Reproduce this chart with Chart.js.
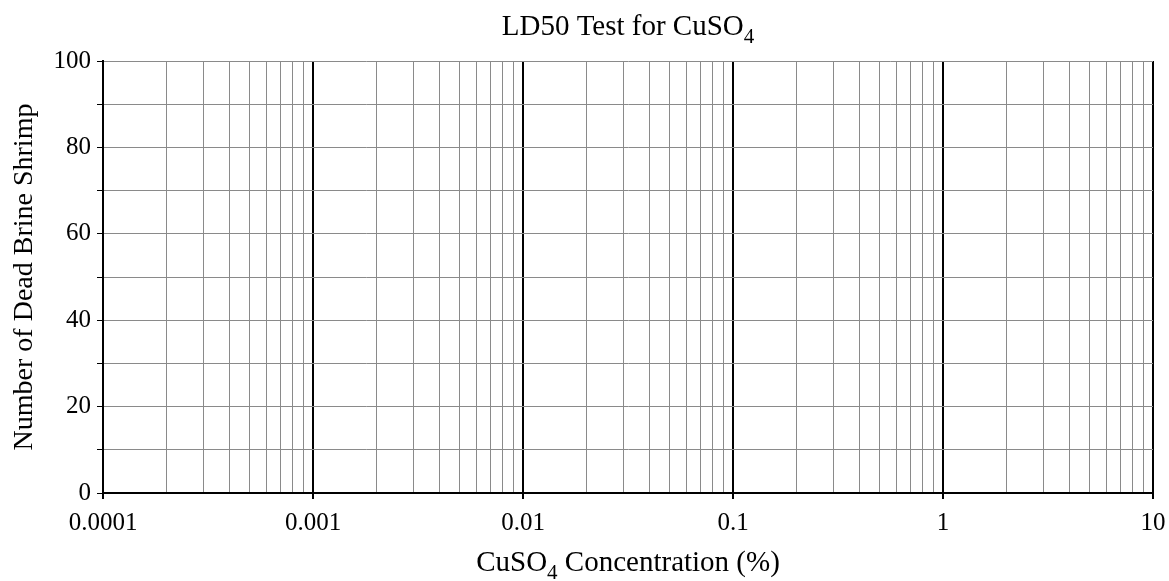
<!DOCTYPE html>
<html>
<head>
<meta charset="utf-8">
<script src="https://cdn.jsdelivr.net/npm/chart.js@4.4.1/dist/chart.umd.min.js"></script>
<style>
    body { margin: 0; background: #fff; }
    #wrap { width: 1169px; height: 581px; }
</style>
</head>
<body>
<div id="wrap"><canvas id="ld50Chart"></canvas></div>
<script>
// Axis values
const decades = [0.0001, 0.001, 0.01, 0.1, 1, 10];
const decadeLabels = ['0.0001', '0.001', '0.01', '0.1', '1', '10'];
const minorSteps = [2, 3, 4, 5, 6, 7, 8, 9];
const yTicks = [0, 10, 20, 30, 40, 50, 60, 70, 80, 90, 100];
const yLabelStep = 20;

// Blank worksheet: no measurements plotted yet
const concentrations = [];
const deadShrimp = [];

const chartTitle = [['LD50 Test for CuSO', false], ['4', true]];
const xTitle = [['CuSO', false], ['4', true], [' Concentration (%)', false]];
const yTitle = 'Number of Dead Brine Shrimp';

const FONT = "'Liberation Serif', 'Times New Roman', serif";

// x ticks: every decade plus 2..9 in between
function buildLogTicks() {
    const ticks = [];
    decades.forEach((d, i) => {
        ticks.push({ value: d, major: true });
        if (i < decades.length - 1) {
            minorSteps.forEach(m => ticks.push({ value: +(d * m).toPrecision(3), major: false }));
        }
    });
    return ticks;
}

// Draw text with a lowered small subscript part
function drawSubText(ctx, parts, cx, cy, size) {
    const subSize = Math.round(size * 0.72);
    let total = 0;
    parts.forEach(([txt, sub]) => {
        ctx.font = (sub ? subSize : size) + 'px ' + FONT;
        total += ctx.measureText(txt).width;
    });
    let x = cx - total / 2;
    ctx.textBaseline = 'alphabetic';
    ctx.textAlign = 'left';
    parts.forEach(([txt, sub]) => {
        ctx.font = (sub ? subSize : size) + 'px ' + FONT;
        ctx.fillText(txt, x, cy + (sub ? size * 0.28 : 0));
        x += ctx.measureText(txt).width;
    });
}

const titlePlugin = {
    id: 'subTitles',
    afterDraw(chart) {
        const { ctx, chartArea } = chart;
        const cx = (chartArea.left + chartArea.right) / 2;
        ctx.save();
        ctx.fillStyle = '#000';
        drawSubText(ctx, chartTitle, cx, 35, 29);
        drawSubText(ctx, xTitle, cx, 571, 29);
        ctx.restore();
    }
};

document.addEventListener('DOMContentLoaded', () => {
    const ctx = document.getElementById('ld50Chart');

    new Chart(ctx, {
        type: 'scatter',
        data: {
            datasets: [{
                label: 'Dead shrimp',
                data: concentrations.map((c, i) => ({ x: c, y: deadShrimp[i] })),
                backgroundColor: '#000',
                pointRadius: 4
            }]
        },
        options: {
            responsive: true,
            maintainAspectRatio: false,
            animation: false,
            layout: {
                padding: { top: 61, right: 16, left: 0, bottom: 0 }
            },
            plugins: {
                legend: { display: false },
                tooltip: { enabled: false }
            },
            scales: {
                x: {
                    type: 'logarithmic',
                    min: decades[0],
                    max: decades[decades.length - 1],
                    afterBuildTicks: scale => { scale.ticks = buildLogTicks(); },
                    afterFit: scale => {
                        scale.height = 88;
                        // keep the plot edge fixed, the "10" label may overhang
                        scale.paddingLeft = 0;
                        scale.paddingRight = 0;
                    },
                    border: { color: '#000', width: 2 },
                    grid: {
                        color: c => (c.tick && c.tick.major) ? '#000' : '#8a8a8a',
                        lineWidth: c => (c.tick && c.tick.major) ? 2 : 1,
                        tickColor: c => (c.tick && c.tick.major) ? '#000' : 'rgba(0,0,0,0)',
                        tickLength: 6
                    },
                    ticks: {
                        autoSkip: false,
                        maxRotation: 0,
                        padding: 9,
                        color: '#000',
                        font: { family: FONT, size: 25 },
                        callback: function (value) {
                            const i = decades.indexOf(value);
                            return i >= 0 ? decadeLabels[i] : '';
                        }
                    }
                },
                y: {
                    min: yTicks[0],
                    max: yTicks[yTicks.length - 1],
                    afterBuildTicks: scale => { scale.ticks = yTicks.map(v => ({ value: v })); },
                    afterFit: scale => { scale.width = 103; },
                    border: { color: '#000', width: 2 },
                    grid: {
                        color: '#8a8a8a',
                        lineWidth: 1,
                        tickColor: '#000',
                        tickLength: 6
                    },
                    title: {
                        display: true,
                        text: yTitle,
                        color: '#000',
                        font: { family: FONT, size: 28 },
                        padding: { top: 8, bottom: 4 }
                    },
                    ticks: {
                        autoSkip: false,
                        padding: 6,
                        color: '#000',
                        font: { family: FONT, size: 25 },
                        callback: value => value % yLabelStep === 0 ? String(value) : ''
                    }
                }
            }
        },
        plugins: [titlePlugin]
    });
});
</script>
</body>
</html>
